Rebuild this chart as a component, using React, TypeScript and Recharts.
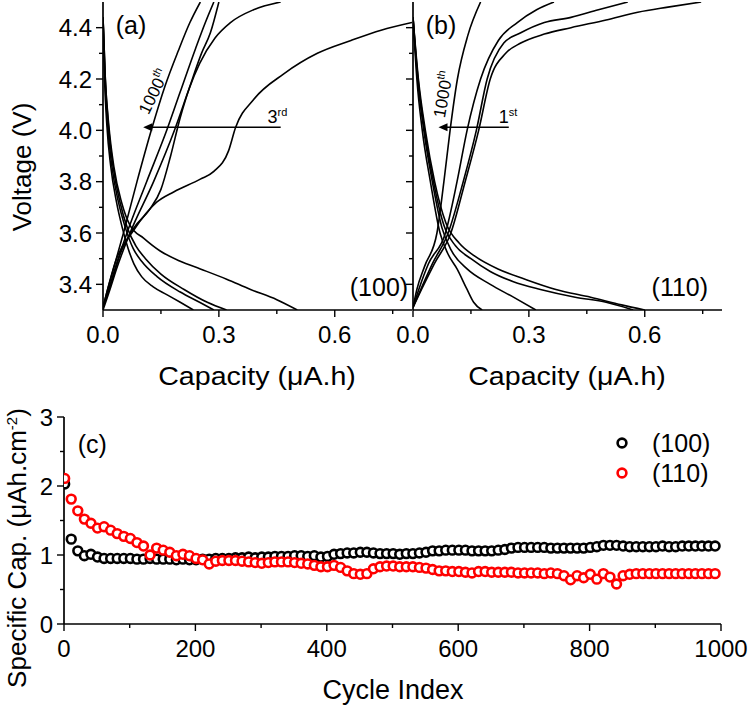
import React from "react";
import {
  Line,
  LineChart,
  ReferenceDot,
  ReferenceLine,
  Scatter,
  ScatterChart,
  XAxis,
  YAxis,
} from "recharts";

const FONT = '"Liberation Sans", Arial, Helvetica, sans-serif';

// (a) (100) facet: [capacity uA.h, voltage V]
const aCharge1000 = [[0, 3.31], [0.012, 3.38], [0.027, 3.46], [0.053, 3.6], [0.088, 3.8], [0.125, 4.0], [0.16, 4.17], [0.195, 4.31], [0.225, 4.42], [0.252, 4.5]];
const aChargeB = [[0, 3.31], [0.015, 3.38], [0.031, 3.46], [0.062, 3.6], [0.113, 3.8], [0.165, 4.0], [0.2, 4.15], [0.24, 4.32], [0.265, 4.42], [0.287, 4.5]];
const aChargeC = [[0, 3.3], [0.018, 3.38], [0.035, 3.46], [0.07, 3.6], [0.131, 3.8], [0.185, 4.0], [0.22, 4.15], [0.255, 4.3], [0.278, 4.38], [0.3, 4.5]];
const aChargeD = [[0, 3.31], [0.02, 3.4], [0.045, 3.52], [0.08, 3.62], [0.12, 3.69], [0.15, 3.77], [0.175, 3.9], [0.2, 4.05], [0.225, 4.17], [0.25, 4.26], [0.29, 4.36], [0.33, 4.42], [0.39, 4.47], [0.46, 4.5]];
const aCharge3rd = [[0, 3.31], [0.035, 3.5], [0.079, 3.61], [0.139, 3.72], [0.183, 3.76], [0.252, 3.81], [0.287, 3.84], [0.325, 3.92], [0.343, 4.01], [0.39, 4.12], [0.468, 4.22], [0.555, 4.3], [0.642, 4.35], [0.72, 4.39], [0.8, 4.42]];
const aDis1000 = [[0, 4.44], [0.004, 4.2], [0.01, 4.02], [0.02, 3.86], [0.035, 3.72], [0.05, 3.62], [0.065, 3.54], [0.08, 3.48], [0.1, 3.43], [0.13, 3.39], [0.165, 3.36], [0.2, 3.33], [0.234, 3.3]];
const aDisB = [[0, 4.44], [0.005, 4.2], [0.012, 4.02], [0.023, 3.86], [0.04, 3.72], [0.058, 3.62], [0.078, 3.54], [0.1, 3.49], [0.14, 3.43], [0.2, 3.37], [0.25, 3.33], [0.287, 3.3]];
const aDisC = [[0, 4.44], [0.006, 4.2], [0.014, 4.02], [0.026, 3.86], [0.044, 3.72], [0.063, 3.62], [0.085, 3.55], [0.11, 3.5], [0.15, 3.44], [0.21, 3.38], [0.27, 3.33], [0.32, 3.3]];
const aDis3rd = [[0, 4.44], [0.006, 4.2], [0.015, 4.02], [0.028, 3.86], [0.048, 3.72], [0.07, 3.63], [0.105, 3.58], [0.148, 3.53], [0.2, 3.49], [0.252, 3.46], [0.32, 3.42], [0.382, 3.38], [0.45, 3.34], [0.503, 3.3]];

// (b) (110) facet
const bCharge1000 = [[0, 3.31], [0.01, 3.38], [0.03, 3.47], [0.062, 3.6], [0.08, 3.8], [0.096, 4.0], [0.115, 4.2], [0.142, 4.37], [0.175, 4.5]];
const bChargeB = [[0, 3.31], [0.015, 3.38], [0.04, 3.48], [0.084, 3.6], [0.114, 3.8], [0.14, 4.0], [0.175, 4.2], [0.221, 4.35], [0.27, 4.42], [0.32, 4.47], [0.365, 4.5]];
const bChargeC = [[0, 3.31], [0.02, 3.38], [0.05, 3.48], [0.091, 3.6], [0.13, 3.8], [0.164, 4.0], [0.192, 4.2], [0.235, 4.34], [0.279, 4.38], [0.34, 4.42], [0.409, 4.44], [0.48, 4.47], [0.556, 4.5]];
const bCharge1st = [[0, 3.31], [0.022, 3.38], [0.055, 3.48], [0.098, 3.6], [0.135, 3.8], [0.17, 4.0], [0.2, 4.2], [0.24, 4.3], [0.279, 4.34], [0.34, 4.375], [0.409, 4.4], [0.5, 4.43], [0.582, 4.46], [0.66, 4.48], [0.746, 4.5]];
const bDis1000 = [[0, 4.44], [0.01, 4.2], [0.024, 4.0], [0.045, 3.8], [0.07, 3.6], [0.09, 3.52], [0.114, 3.46], [0.14, 3.38], [0.157, 3.33], [0.179, 3.3]];
const bDisB = [[0, 4.44], [0.012, 4.2], [0.028, 4.0], [0.05, 3.8], [0.075, 3.62], [0.1, 3.53], [0.14, 3.46], [0.2, 3.4], [0.26, 3.35], [0.318, 3.3]];
const bDisC = [[0, 4.44], [0.013, 4.2], [0.03, 4.0], [0.053, 3.8], [0.08, 3.63], [0.11, 3.55], [0.15, 3.5], [0.2, 3.45], [0.26, 3.41], [0.33, 3.38], [0.42, 3.35], [0.5, 3.33], [0.57, 3.3]];
const bDis1st = [[0, 4.44], [0.014, 4.2], [0.032, 4.0], [0.056, 3.8], [0.085, 3.64], [0.12, 3.56], [0.16, 3.51], [0.22, 3.46], [0.29, 3.42], [0.37, 3.38], [0.46, 3.35], [0.54, 3.32], [0.6, 3.3]];

const aCurves = [aCharge1000, aChargeB, aChargeC, aChargeD, aCharge3rd, aDis1000, aDisB, aDisC, aDis3rd];
const bCurves = [bCharge1000, bChargeB, bChargeC, bCharge1st, bDis1000, bDisB, bDisC, bDis1st];

// (c) cycling
const cycles = [1, 11, 21, 31, 41, 51, 61, 71, 81, 91, 101, 111, 121, 131, 141, 151, 161, 171, 181, 191, 201, 211, 221, 231, 241, 251, 261, 271, 281, 291, 301, 311, 321, 331, 341, 351, 361, 371, 381, 391, 401, 411, 421, 431, 441, 451, 461, 471, 481, 491, 501, 511, 521, 531, 541, 551, 561, 571, 581, 591, 601, 611, 621, 631, 641, 651, 661, 671, 681, 691, 701, 711, 721, 731, 741, 751, 761, 771, 781, 791, 801, 811, 821, 831, 841, 851, 861, 871, 881, 891, 901, 911, 921, 931, 941, 951, 961, 971, 981, 991];
const cap100 = [2.03, 1.23, 1.06, 0.99, 1.01, 0.97, 0.95, 0.95, 0.95, 0.95, 0.95, 0.94, 0.94, 0.95, 0.94, 0.94, 0.94, 0.93, 0.94, 0.93, 0.93, 0.94, 0.94, 0.95, 0.95, 0.95, 0.96, 0.96, 0.97, 0.96, 0.97, 0.97, 0.98, 0.98, 0.98, 0.99, 0.99, 0.98, 0.99, 0.97, 0.98, 1.01, 1.02, 1.03, 1.03, 1.04, 1.04, 1.03, 1.02, 1.02, 1.02, 1.01, 1.02, 1.02, 1.03, 1.04, 1.06, 1.06, 1.07, 1.07, 1.07, 1.07, 1.06, 1.06, 1.06, 1.06, 1.07, 1.08, 1.1, 1.11, 1.11, 1.11, 1.11, 1.11, 1.1, 1.1, 1.1, 1.1, 1.1, 1.1, 1.11, 1.12, 1.14, 1.14, 1.14, 1.13, 1.12, 1.12, 1.12, 1.12, 1.12, 1.13, 1.12, 1.12, 1.13, 1.13, 1.13, 1.13, 1.13, 1.13];
const cap110 = [2.11, 1.81, 1.64, 1.52, 1.46, 1.39, 1.41, 1.36, 1.31, 1.27, 1.24, 1.18, 1.13, 1.0, 1.1, 1.07, 1.04, 0.99, 1.01, 0.99, 0.95, 0.93, 0.87, 0.91, 0.92, 0.92, 0.92, 0.91, 0.9, 0.89, 0.88, 0.89, 0.9, 0.9, 0.9, 0.89, 0.88, 0.87, 0.85, 0.83, 0.83, 0.85, 0.82, 0.77, 0.73, 0.72, 0.73, 0.8, 0.83, 0.84, 0.84, 0.83, 0.83, 0.83, 0.82, 0.81, 0.79, 0.77, 0.77, 0.76, 0.76, 0.75, 0.74, 0.76, 0.76, 0.75, 0.75, 0.75, 0.75, 0.74, 0.74, 0.74, 0.74, 0.73, 0.74, 0.73, 0.7, 0.64, 0.7, 0.67, 0.72, 0.65, 0.73, 0.68, 0.58, 0.7, 0.72, 0.73, 0.73, 0.73, 0.73, 0.73, 0.73, 0.73, 0.73, 0.73, 0.73, 0.73, 0.73, 0.73];

const voltTicks = [3.4, 3.5, 3.6, 3.7, 3.8, 3.9, 4.0, 4.1, 4.2, 4.3, 4.4];
const voltMajor = [3.4, 3.6, 3.8, 4.0, 4.2, 4.4];
const capTicks = [0, 0.15, 0.3, 0.45, 0.6, 0.75];
const capMajor = [0, 0.3, 0.6];
const cycleTicks = [0, 100, 200, 300, 400, 500, 600, 700, 800, 900, 1000];
const cycleMajor = [0, 200, 400, 600, 800, 1000];
const specTicks = [0, 0.5, 1, 1.5, 2, 2.5, 3];
const specMajor = [0, 1, 2, 3];

const pts = (arr: number[][]) => arr.map(([q, v]) => ({ q, v }));
const cData = (vals: number[]) => vals.map((v, i) => ({ c: cycles[i], v }));

const AX = { stroke: "#000", strokeWidth: 1.7 };

function xTick(majors: number[], label: boolean, fmt: (v: number) => string, dir: number) {
  return (p: any) => {
    const major = majors.includes(p.payload.value);
    const len = major ? 7 : 4;
    return (
      <g>
        <line x1={p.x} x2={p.x} y1={p.y} y2={p.y + dir * len} stroke="#000" strokeWidth={1.4} />
        {label && major && (
          <text x={p.x} y={p.y + 24} textAnchor="middle" dominantBaseline="central" fontSize={24} fontFamily={FONT} fill="#000">
            {fmt(p.payload.value)}
          </text>
        )}
      </g>
    );
  };
}

function yTick(majors: number[], label: boolean, fmt: (v: number) => string, dir: number) {
  return (p: any) => {
    const major = majors.includes(p.payload.value);
    const len = major ? 7 : 4;
    return (
      <g>
        <line x1={p.x} x2={p.x + dir * len} y1={p.y} y2={p.y} stroke="#000" strokeWidth={1.4} />
        {label && major && (
          <text x={p.x - 11} y={p.y} textAnchor="end" dominantBaseline="central" fontSize={24} fontFamily={FONT} fill="#000">
            {fmt(p.payload.value)}
          </text>
        )}
      </g>
    );
  };
}

const noteText = (text: string, size: number, anchor: string) => (p: any) => (
  <text x={p.cx} y={p.cy} textAnchor={anchor} dominantBaseline="central" fontSize={size} fontFamily={FONT} fill="#000">
    {text}
  </text>
);

const supText = (base: string, sup: string) => (p: any) => (
  <text x={p.cx} y={p.cy} fontSize={18} fontFamily={FONT} fill="#000">
    {base}
    <tspan dy={-7} fontSize={11}>{sup}</tspan>
  </text>
);

const rotText = (angle: number) => (p: any) => (
  <text x={p.cx} y={p.cy} transform={`rotate(${angle} ${p.cx} ${p.cy})`} textAnchor="middle" dominantBaseline="central" fontSize={17} fontFamily={FONT} fill="#000">
    1000
    <tspan dy={-6} fontSize={11}>th</tspan>
  </text>
);

const arrowHead = (p: any) => (
  <polygon points={`${p.cx},${p.cy} ${p.cx + 9},${p.cy - 4} ${p.cx + 9},${p.cy + 4}`} fill="#000" />
);

const fmt1 = (v: number) => v.toFixed(1);
const fmtInt = (v: number) => String(v);

function VoltPanel({
  curves,
  left,
  width,
  yWidth,
  marginRight,
  showY,
  tag,
  facet,
  facetX,
  cycleLabel,
  cycleX,
  arrowFrom,
  arrowTo,
  rotX,
  rotV,
  rotAngle,
}: any) {
  return (
    <LineChart
      width={width}
      height={400}
      margin={{ top: 2, right: marginRight, bottom: 0, left: 0 }}
      style={{ position: "absolute", left, top: 0 }}
    >
      <XAxis
        dataKey="q"
        type="number"
        domain={[0, 0.8]}
        allowDataOverflow
        ticks={capTicks}
        interval={0}
        tickSize={0}
        tickMargin={0}
        tickLine={false}
        axisLine={AX}
        tick={xTick(capMajor, true, fmt1, 1)}
        height={90}
      />
      <XAxis
        xAxisId="top"
        orientation="top"
        type="number"
        domain={[0, 0.8]}
        allowDataOverflow
        ticks={capTicks}
        interval={0}
        tickSize={0}
        tickMargin={0}
        tickLine={false}
        axisLine={AX}
        tick={xTick(capMajor, false, fmt1, 1)}
        height={0}
      />
      <YAxis
        dataKey="v"
        type="number"
        domain={[3.3, 4.5]}
        allowDataOverflow
        ticks={voltTicks}
        interval={0}
        tickSize={0}
        tickMargin={0}
        tickLine={false}
        axisLine={AX}
        tick={yTick(voltMajor, showY, fmt1, -1)}
        width={yWidth}
      />
      {!showY && (
        <YAxis
          yAxisId="right"
          orientation="right"
          type="number"
          domain={[3.3, 4.5]}
          allowDataOverflow
          ticks={voltTicks}
          interval={0}
          tickSize={0}
          tickMargin={0}
          tickLine={false}
          axisLine={AX}
          tick={yTick(voltMajor, false, fmt1, 1)}
          width={0}
        />
      )}
      {curves.map((c: number[][], i: number) => (
        <Line
          key={i}
          data={pts(c)}
          dataKey="v"
          type="monotone"
          stroke="#000"
          strokeWidth={1.6}
          dot={false}
          activeDot={false}
          isAnimationActive={false}
        />
      ))}
      <ReferenceLine
        segment={[
          { x: arrowFrom, y: 4.012 },
          { x: arrowTo + 0.02, y: 4.012 },
        ]}
        stroke="#000"
        strokeWidth={1.3}
      />
      <ReferenceDot x={arrowTo} y={4.012} r={0} shape={arrowHead} />
      <ReferenceDot x={cycleX} y={4.03} r={0} shape={supText(cycleLabel[0], cycleLabel[1])} />
      <ReferenceDot x={rotX} y={rotV} r={0} shape={rotText(rotAngle)} />
      <ReferenceDot x={0.033} y={4.41} r={0} shape={noteText(tag, 25, "start")} />
      <ReferenceDot x={facetX} y={3.39} r={0} shape={noteText(facet, 25, "end")} />
    </LineChart>
  );
}

const capSeries = [
  { name: "(100)", values: cap100, color: "#000000" },
  { name: "(110)", values: cap110, color: "#ff0000" },
];

const ring = (color: string) => (p: any) => (
  <circle cx={p.cx} cy={p.cy} r={4.4} fill="#fff" stroke={color} strokeWidth={2.6} />
);

const title = (extra: React.CSSProperties): React.CSSProperties => ({
  position: "absolute",
  whiteSpace: "nowrap",
  fontFamily: FONT,
  fontSize: 26,
  color: "#000",
  lineHeight: 1,
  ...extra,
});

export default function App() {
  return (
    <div style={{ position: "absolute", left: 0, top: 0, width: 750, height: 707, background: "#fff", overflow: "hidden" }}>
      <VoltPanel
        curves={aCurves}
        left={0}
        width={412}
        yWidth={103}
        marginRight={0}
        showY
        tag="(a)"
        facet="(100)"
        facetX={0.79}
        cycleLabel={["3", "rd"]}
        cycleX={0.426}
        arrowFrom={0.46}
        arrowTo={0.104}
        rotX={0.132}
        rotV={4.15}
        rotAngle={-64}
      />
      <VoltPanel
        curves={bCurves}
        left={380}
        width={370}
        yWidth={33}
        marginRight={28}
        showY={false}
        tag="(b)"
        facet="(110)"
        facetX={0.764}
        cycleLabel={["1", "st"]}
        cycleX={0.222}
        arrowFrom={0.248}
        arrowTo={0.066}
        rotX={0.079}
        rotV={4.14}
        rotAngle={-80}
      />

      <ScatterChart
        width={750}
        height={307}
        margin={{ top: 17, right: 29, bottom: 0, left: 0 }}
        style={{ position: "absolute", left: 0, top: 400 }}
      >
        <XAxis
          dataKey="c"
          type="number"
          domain={[0, 1000]}
          allowDataOverflow
          ticks={cycleTicks}
          interval={0}
          tickSize={0}
          tickMargin={0}
          tickLine={false}
          axisLine={AX}
          tick={xTick(cycleMajor, true, fmtInt, 1)}
          height={83}
        />
        <XAxis xAxisId="top" orientation="top" type="number" domain={[0, 1000]} tick={false} tickLine={false} axisLine={AX} height={0} />
        <YAxis
          dataKey="v"
          type="number"
          domain={[0, 3]}
          allowDataOverflow
          ticks={specTicks}
          interval={0}
          tickSize={0}
          tickMargin={0}
          tickLine={false}
          axisLine={AX}
          tick={yTick(specMajor, true, fmtInt, -1)}
          width={64}
        />
        <YAxis yAxisId="right" orientation="right" type="number" domain={[0, 3]} tick={false} tickLine={false} axisLine={AX} width={0} />
        {capSeries.map((s) => (
          <Scatter
            key={s.name}
            name={s.name}
            data={cData(s.values)}
            shape={ring(s.color)}
            isAnimationActive={false}
          />
        ))}
        <ReferenceDot x={21} y={2.61} r={0} shape={noteText("(c)", 25, "start")} />
      </ScatterChart>

      <div style={{ position: "absolute", left: 613, top: 428, fontFamily: FONT, fontSize: 25, color: "#000" }}>
        {capSeries.map((s) => (
          <div key={s.name} style={{ display: "flex", alignItems: "center", height: 30 }}>
            <svg width={18} height={18}>
              <circle cx={9} cy={9} r={4.4} fill="#fff" stroke={s.color} strokeWidth={2.6} />
            </svg>
            <span style={{ marginLeft: 21 }}>{s.name}</span>
          </div>
        ))}
      </div>

      <div style={title({ left: 22, top: 167, transform: "translate(-50%, -50%) rotate(-90deg)" })}>Voltage (V)</div>
      <div style={title({ left: 257, top: 376, transform: "translate(-50%, -50%) scaleX(1.1)" })}>Capacity (μA.h)</div>
      <div style={title({ left: 567, top: 376, transform: "translate(-50%, -50%) scaleX(1.1)" })}>Capacity (μA.h)</div>
      <div style={title({ left: 17, top: 548, transform: "translate(-50%, -50%) rotate(-90deg)" })}>
        Specific Cap. (μAh.cm<sup style={{ fontSize: 15, verticalAlign: "9px", lineHeight: 0 }}>-2</sup>)
      </div>
      <div style={title({ left: 393, top: 690, fontSize: 27, transform: "translate(-50%, -50%)" })}>Cycle Index</div>
    </div>
  );
}
